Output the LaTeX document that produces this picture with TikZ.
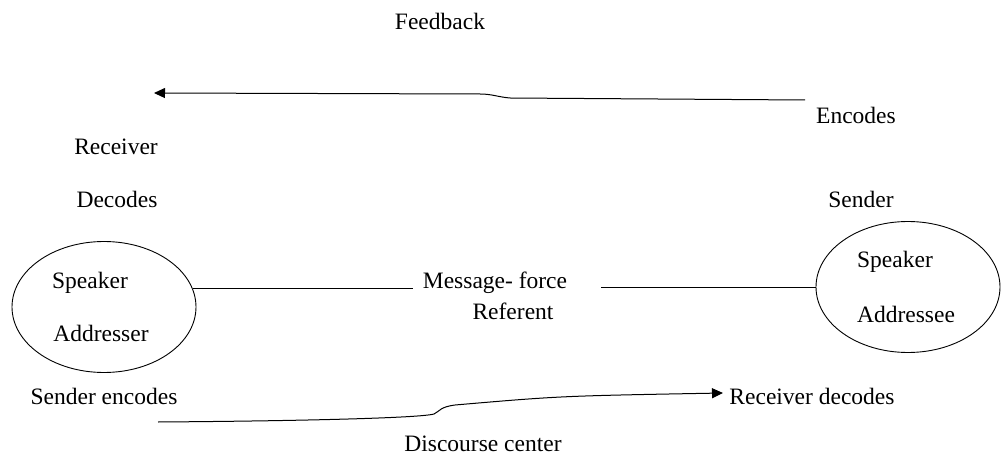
\documentclass[tikz,border=0pt]{standalone}
\usepackage{fontspec}
\setmainfont{Liberation Serif}
\usetikzlibrary{shapes.geometric,arrows.meta}

\begin{document}
\begin{tikzpicture}[x=1pt,y=-1pt]
\tikzset{
  lbl/.style={font=\fontsize{23.5}{28}\selectfont, inner sep=1pt},
  party/.style={draw, ellipse, line width=0.9pt, minimum width=184, minimum height=131},
  link/.style={draw, line width=1pt},
  flow/.style={link, -{Triangle[length=11pt,width=10pt]}}
}
\useasboundingbox (0,0) rectangle (1004,457);
% the two parties
\node [party] (lft) at (104,307) {};
\node [party] (rgt) at (908,287) {};
\node [lbl] (spkL) at (90,283) {Speaker};
\node [lbl] (adrL) at (101,333) {Addresser};
\node [lbl] (spkR) at (895,262) {Speaker};
\node [lbl] (adrR) at (906,314) {Addressee};
% labels round them
\node [lbl] (fb) at (440,21) {Feedback};
\node [lbl] (enc) at (856,115) {Encodes};
\node [lbl] (rcv) at (116,147) {Receiver};
\node [lbl] (dec) at (117,199) {Decodes};
\node [lbl] (snd) at (861,199) {Sender};
\node [lbl] (sndenc) at (104,396) {Sender encodes};
\node [lbl] (rcvdec) at (812,396) {Receiver decodes};
\node [lbl] (dc) at (483,444) {Discourse center};
\node [lbl] (msg) at (495,283) {Message- force};
\node [lbl] (ref) at (513,311) {Referent};
% feedback and message lines
\coordinate (fbR) at (805,100);
\coordinate (fbL) at (154,93);
\coordinate (dcL) at (158,422);
\coordinate (dcR) at (723,393);
\draw [flow] (fbR) -- (510,98) .. controls (498,97) and (492,94) .. (480,94) -- (fbL);
\draw [flow] (dcL) .. controls (300,421) and (420,418) .. (434,414)
  .. controls (440,411) and (440,407) .. (455,405)
  .. controls (560,396) .. (dcR);
\draw [link] (lft.12) -- ([xshift=-9pt]lft.12 -| msg.west);
\draw [link] ([xshift=33pt]msg.east |- rgt.west) -- (rgt.west);
\end{tikzpicture}
\end{document}
